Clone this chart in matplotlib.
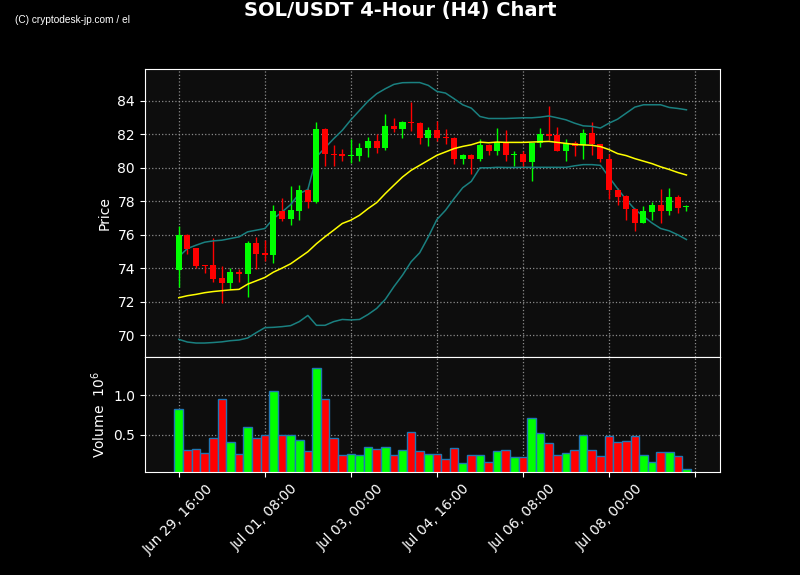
import pandas as pd
import matplotlib
matplotlib.use('Agg')
import matplotlib.pyplot as plt

# 4-hour candles, Jun 29 16:00 onwards
times = pd.date_range('2023-06-29 16:00', periods=60, freq='4h')

opens = [73.9, 76.0, 75.2, 74.2, 74.2, 73.4, 73.1, 73.75, 73.65, 75.5,
         74.9, 74.8, 77.4, 76.95, 77.4, 78.7, 77.95, 82.35, 80.85, 80.85,
         80.7, 80.7, 81.2, 81.6, 81.2, 82.5, 82.3, 82.75, 82.7, 81.8,
         82.25, 81.85, 81.8, 80.55, 80.75, 80.55, 81.35, 81.0, 81.55, 80.75,
         80.8, 80.35, 81.5, 82.05, 81.95, 81.0, 81.5, 81.35, 82.1, 81.4,
         80.55, 78.7, 78.3, 77.55, 76.7, 77.38, 77.8, 77.4, 78.25, 77.65]
highs = [76.5, 76.05, 75.2, 74.2, 75.8, 74.1, 74.0, 73.95, 75.65, 75.85,
         75.7, 77.8, 78.2, 78.9, 78.95, 78.8, 82.75, 82.4, 81.35, 81.15,
         81.7, 81.5, 81.85, 82.0, 83.2, 83.0, 82.8, 83.95, 82.75, 82.45,
         82.8, 82.3, 81.85, 80.85, 80.85, 81.7, 81.4, 82.4, 82.25, 81.0,
         81.0, 81.5, 82.4, 83.7, 82.45, 81.7, 81.6, 82.35, 82.75, 81.45,
         80.8, 78.8, 78.35, 77.6, 77.7, 77.95, 78.75, 78.8, 78.4, 77.8]
lows = [72.9, 74.85, 74.0, 73.7, 73.2, 71.9, 72.75, 73.2, 72.3, 73.95,
        74.4, 74.3, 76.8, 76.55, 76.9, 77.6, 77.9, 80.1, 80.1, 80.4,
        80.3, 80.4, 80.65, 80.9, 81.05, 82.15, 81.8, 82.2, 81.4, 81.3,
        81.6, 81.45, 80.2, 80.2, 79.65, 80.4, 80.75, 80.75, 80.4, 80.1,
        80.0, 79.2, 81.25, 81.65, 81.0, 80.4, 80.7, 80.5, 80.75, 80.35,
        78.15, 77.8, 76.9, 76.25, 76.7, 76.9, 76.7, 77.2, 77.3, 77.4]
closes = [76.0, 75.15, 74.1, 74.1, 73.35, 73.1, 73.75, 73.65, 75.5, 74.85,
          74.8, 77.4, 76.95, 77.45, 78.7, 77.95, 82.35, 80.85, 80.75, 80.7,
          80.75, 81.2, 81.6, 81.2, 82.5, 82.3, 82.75, 82.7, 81.8, 82.25,
          81.8, 81.8, 80.55, 80.75, 80.55, 81.35, 81.0, 81.55, 80.75, 80.8,
          80.35, 81.5, 82.05, 81.9, 81.0, 81.5, 81.3, 82.1, 81.4, 80.55,
          78.7, 78.25, 77.55, 76.7, 77.4, 77.8, 77.4, 78.25, 77.6, 77.7]

# indicator lines
sma = [72.23, 72.35, 72.43, 72.53, 72.6, 72.65, 72.7, 72.73, 73.04, 73.24,
       73.44, 73.76, 74.0, 74.26, 74.62, 74.98, 75.46, 75.88, 76.27, 76.67,
       76.87, 77.16, 77.56, 77.92, 78.46, 78.96, 79.45, 79.85, 80.15, 80.45,
       80.75, 80.95, 81.15, 81.28, 81.38, 81.54, 81.5, 81.54, 81.52, 81.52,
       81.52, 81.54, 81.56, 81.58, 81.52, 81.46, 81.4, 81.37, 81.35, 81.27,
       81.09, 80.85, 80.73, 80.55, 80.4, 80.25, 80.06, 79.9, 79.72, 79.57]
upper = [74.68, 75.17, 75.37, 75.55, 75.63, 75.67, 75.77, 75.87, 76.17, 76.27,
         76.37, 76.96, 77.36, 77.8, 78.46, 78.7, 80.65, 81.2, 81.74, 82.24,
         82.87, 83.43, 83.99, 84.43, 84.73, 84.99, 85.09, 85.1, 85.1, 84.93,
         84.57, 84.47, 84.13, 83.77, 83.57, 83.07, 82.95, 82.95, 82.95, 82.97,
         82.99, 82.99, 83.03, 83.1, 82.99, 82.87, 82.67, 82.51, 82.48, 82.38,
         82.67, 82.91, 83.27, 83.63, 83.77, 83.77, 83.77, 83.61, 83.55, 83.47]
lower = [69.74, 69.58, 69.52, 69.52, 69.55, 69.59, 69.66, 69.7, 69.82, 70.14,
         70.44, 70.46, 70.5, 70.56, 70.8, 71.17, 70.58, 70.58, 70.8, 70.93,
         70.9, 70.93, 71.23, 71.59, 72.13, 72.89, 73.58, 74.38, 74.92, 75.87,
         76.91, 77.46, 78.16, 78.81, 79.19, 80.0, 80.0, 80.03, 80.02, 80.02,
         80.03, 80.03, 80.03, 80.03, 80.03, 80.03, 80.12, 80.19, 80.19, 80.15,
         79.45, 78.75, 78.09, 77.52, 77.1, 76.7, 76.37, 76.23, 75.99, 75.71]

# volume in millions
volume = [0.82, 0.30, 0.32, 0.27, 0.45, 0.96, 0.405, 0.25, 0.60, 0.46,
          0.49, 1.05, 0.495, 0.495, 0.43, 0.295, 1.355, 0.95, 0.46, 0.24,
          0.25, 0.24, 0.34, 0.32, 0.34, 0.24, 0.30, 0.53, 0.29, 0.25,
          0.25, 0.19, 0.33, 0.135, 0.24, 0.24, 0.15, 0.29, 0.30, 0.21,
          0.215, 0.71, 0.52, 0.39, 0.24, 0.265, 0.30, 0.49, 0.30, 0.23,
          0.475, 0.40, 0.42, 0.475, 0.24, 0.15, 0.28, 0.28, 0.23, 0.06]

df = pd.DataFrame({'Open': opens, 'High': highs, 'Low': lows, 'Close': closes,
                   'Volume': volume}, index=times)
x = list(range(len(df)))
colors = ['#00ff00' if c >= o else '#ff0000' for o, c in zip(df['Open'], df['Close'])]

fig = plt.figure(figsize=(8, 5.75), dpi=100, facecolor='black')
ax = fig.add_axes([0.181, 0.379, 0.719, 0.501])
axv = fig.add_axes([0.181, 0.179, 0.719, 0.2], sharex=ax)

for a in (ax, axv):
    a.set_facecolor('#0d0d0d')
    for s in a.spines.values():
        s.set_color('white')
    a.tick_params(colors='white', labelsize=10)
    a.grid(True, color='#aaaaaa', linestyle=':', linewidth=0.9, alpha=0.8)
    a.set_axisbelow(True)

# candles
for i in x:
    o, h, l, c = df['Open'].iloc[i], df['High'].iloc[i], df['Low'].iloc[i], df['Close'].iloc[i]
    ax.vlines(i, l, h, color=colors[i], linewidth=1)
    ax.bar(i, max(abs(c - o), 0.06), bottom=min(o, c), width=0.7, color=colors[i], zorder=3)

ax.plot(x, sma, color='#ffff00', linewidth=1.1, zorder=4)
ax.plot(x, upper, color='#1a8080', linewidth=1.1, zorder=2)
ax.plot(x, lower, color='#1a8080', linewidth=1.1, zorder=2)

ax.set_ylim(68.68, 85.91)
ax.set_yticks([70, 72, 74, 76, 78, 80, 82, 84])
ax.set_ylabel('Price', color='white', fontsize=10)
plt.setp(ax.get_xticklabels(), visible=False)

# volume
axv.bar(x, df['Volume'], width=1.0, color=colors, edgecolor='#1f77b4', linewidth=1)
axv.set_ylim(0.02, 1.49)
axv.set_yticks([0.5, 1.0])
axv.set_ylabel('Volume  $10^{6}$', color='white', fontsize=10)

tick_pos = [0, 10, 20, 30, 40, 50, 60]
tick_lab = [t.strftime('%b %d, %H:%M') for t in times[::10]] + ['']
axv.set_xticks(tick_pos)
axv.set_xticklabels(tick_lab, rotation=45)
axv.set_xlim(-3.95, 62.9)

fig.text(0.5, 0.982, 'SOL/USDT 4-Hour (H4) Chart', color='white', fontsize=14,
         fontweight='bold', ha='center', va='center')
fig.text(0.019, 0.965, '(C) cryptodesk-jp.com / el', color='white', fontsize=7.3,
         family='Liberation Sans', ha='left', va='center')

fig.savefig('out.png', dpi=100, facecolor='black')
